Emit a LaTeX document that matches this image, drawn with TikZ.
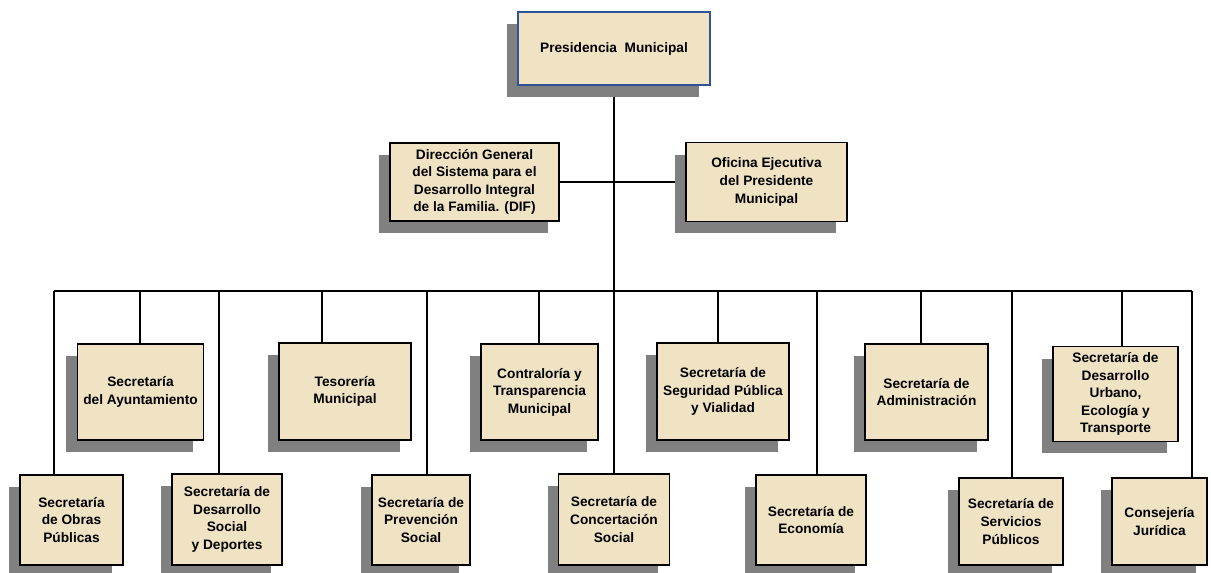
\documentclass[tikz,border=0pt]{standalone}
\usepackage{fontspec}
\setmainfont{Liberation Sans}
\usetikzlibrary{shapes,shadows,backgrounds}

\definecolor{parchment}{RGB}{239,227,196}
\definecolor{presblue}{RGB}{47,84,150}

\begin{document}
\begin{tikzpicture}[x=0.02cm,y=-0.02cm,font=\bfseries\fontsize{7.8}{10}\selectfont]
    \tikzstyle{office}=[rectangle,draw=black,line width=1pt,fill=parchment,align=center,
      drop shadow={shadow xshift=-0.22cm,shadow yshift=-0.24cm,fill=black!50,opacity=1}]
    \tikzstyle{link}=[line width=1pt]

    \useasboundingbox (0,0) rectangle (1211,572);

    \begin{scope}
      \node [office,draw=presblue,minimum width=3.84cm,minimum height=1.46cm] at (614, 48.5) (pres) {Presidencia\ \ Municipal};

      \node [office,minimum width=3.38cm,minimum height=1.54cm] at (474.5, 182) (dif) {Dirección General\\del Sistema para el\\Desarrollo Integral\\de la Familia. (DIF)};
      \node [office,minimum width=3.22cm,minimum height=1.58cm] at (766.5, 182) (ofi) {Oficina Ejecutiva\\del Presidente\\Municipal};

      % upper row
      \node [office,minimum width=2.5cm,minimum height=1.92cm] at (140.5, 392) (ayun) {Secretaría\\del Ayuntamiento};
      \node [office,minimum width=2.64cm,minimum height=1.94cm] at (345, 391.5) (teso) {Tesorería\\Municipal};
      \node [office,minimum width=2.34cm,minimum height=1.92cm] at (539.5, 392) (contra) {Contraloría y\\Transparencia\\Municipal};
      \node [office,minimum width=2.64cm,minimum height=1.94cm] at (723, 391.5) (segu) {Secretaría de\\Seguridad Pública\\y Vialidad};
      \node [office,minimum width=2.46cm,minimum height=1.92cm] at (926.5, 392) (admin) {Secretaría de\\Administración};
      \node [office,minimum width=2.5cm,minimum height=1.84cm] at (1115.5, 394) (urb) {Secretaría de\\Desarrollo\\Urbano,\\Ecología y\\Transporte};

      % lower row
      \node [office,minimum width=2.06cm,minimum height=1.8cm] at (71.5, 520) (obras) {Secretaría\\de Obras\\Públicas};
      \node [office,minimum width=2.2cm,minimum height=1.82cm] at (227, 519.5) (dsoc) {Secretaría de\\Desarrollo\\Social\\y Deportes};
      \node [office,minimum width=1.96cm,minimum height=1.8cm] at (421, 520) (prev) {Secretaría de\\Prevención\\Social};
      \node [office,minimum width=2.22cm,minimum height=1.82cm] at (614, 519.5) (conc) {Secretaría de\\Concertación\\Social};
      \node [office,minimum width=2.2cm,minimum height=1.8cm] at (811, 520) (econ) {Secretaría de\\Economía};
      \node [office,minimum width=2.08cm,minimum height=1.74cm] at (1011, 521.5) (serv) {Secretaría de\\Servicios\\Públicos};
      \node [office,minimum width=1.9cm,minimum height=1.74cm] at (1159.5, 521.5) (cons) {Consejería\\Jurídica};

      \begin{scope}[on background layer]
        \draw [link] (pres) -- (conc);
        \draw [link] (dif) -- (ofi);

        \foreach \x/\unit in {54/obras,140/ayun,219/dsoc,322/teso,427/prev,539/contra,
                              718/segu,817/econ,921/admin,1012/serv,1122/urb,1192/cons}
        {
          \coordinate (d\unit) at (\x, 291);
          \draw [link] (d\unit) -- (d\unit |- \unit.north);
        }
        \draw [link] (dobras) -- (dcons);
      \end{scope}
    \end{scope}

  \end{tikzpicture}
\end{document}
